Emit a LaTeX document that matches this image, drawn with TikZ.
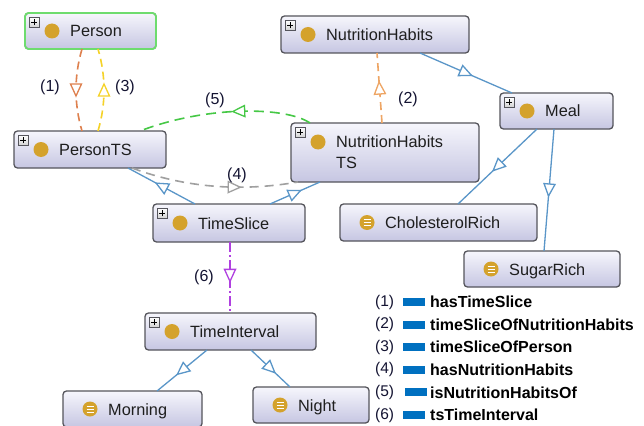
\documentclass[tikz,border=0pt]{standalone}
\usepackage{fontspec}
\setmainfont{Liberation Sans}
\usetikzlibrary{decorations.markings,shadings}
\definecolor{gold}{RGB}{212,162,44}
\definecolor{boxline}{RGB}{85,85,92}
\definecolor{boxtop}{RGB}{246,246,252}
\definecolor{boxbot}{RGB}{198,198,226}
\definecolor{selgreen}{RGB}{110,220,110}
\definecolor{subblue}{RGB}{90,150,200}
\definecolor{eorange}{RGB}{222,128,78}
\definecolor{eorangeb}{RGB}{238,165,100}
\definecolor{eyellow}{RGB}{245,210,40}
\definecolor{egreen}{RGB}{70,200,70}
\definecolor{egray}{RGB}{160,160,160}
\definecolor{epurple}{RGB}{176,64,224}
\definecolor{legblue}{RGB}{0,112,192}
\definecolor{txt}{RGB}{30,30,30}
\definecolor{labtxt}{RGB}{20,20,50}
\tikzset{
  cbox/.style={rectangle, rounded corners=3.5pt, draw=boxline, line width=1.3pt,
    top color=boxtop, bottom color=boxbot, inner sep=0pt, outer sep=0pt},
  plusbox/.style={rectangle, minimum size=10pt, inner sep=0pt, draw=boxline, line width=0.6pt,
    top color=white, bottom color=gray!35,
    path picture={\draw[black, line width=1.1pt]
      ([xshift=-3pt]path picture bounding box.center) -- ([xshift=3pt]path picture bounding box.center)
      ([yshift=-3pt]path picture bounding box.center) -- ([yshift=3pt]path picture bounding box.center);}},
  clsdot/.style={circle, fill=gold, minimum size=15pt, inner sep=0pt},
  inddot/.style={circle, fill=gold, minimum size=15pt, inner sep=0pt,
    path picture={\draw[white, line width=1pt]
      ([shift={(-3.5pt,3pt)}]path picture bounding box.center) -- ([shift={(3.5pt,3pt)}]path picture bounding box.center)
      ([shift={(-3.5pt,0pt)}]path picture bounding box.center) -- ([shift={(3.5pt,0pt)}]path picture bounding box.center)
      ([shift={(-3.5pt,-3pt)}]path picture bounding box.center) -- ([shift={(3.5pt,-3pt)}]path picture bounding box.center);}},
  ctext/.style={anchor=base west, inner sep=0pt, text=txt, font=\fontsize{16.3}{21}\selectfont},
  elab/.style={inner sep=0pt, text=labtxt, font=\fontsize{16}{19}\selectfont},
  marr/.style n args={2}{postaction={decorate}, decoration={markings,
    mark=at position #1 with {\draw[#2, solid, fill=white, line width=1.3pt, line join=miter]
      (6pt,0pt) -- (-6pt,5.5pt) -- (-6pt,-5.5pt) -- cycle;}}},
  subedge/.style={draw=subblue, line width=1.3pt, marr={0.5}{subblue}},
  objedge/.style={line width=1.6pt, dash pattern=on 8pt off 5pt},
  legnum/.style={anchor=west, inner sep=0pt, text=labtxt, font=\fontsize{15.5}{18}\selectfont},
  legbar/.style={rectangle, fill=legblue, minimum width=22pt, minimum height=8pt, inner sep=0pt, anchor=west},
  legtxt/.style={anchor=west, inner sep=0pt, text=black, font=\bfseries\fontsize{16}{19}\selectfont},
}
\newcommand\cls[6]{%
  \node[cbox, minimum width=#4pt, minimum height=#5pt] (#1) at (#2,#3) {};
  \node[plusbox, anchor=north west] (#1-p) at ([shift={(4,4)}]#1.north west) {};
  \node[clsdot] (#1-d) at ([xshift=27pt]#1.west) {};
  \node[ctext] (#1-t) at ([shift={(45,6)}]#1.west) {#6};
}
\newcommand\ind[6]{%
  \node[cbox, minimum width=#4pt, minimum height=#5pt] (#1) at (#2,#3) {};
  \node[inddot] (#1-d) at ([xshift=27pt]#1.west) {};
  \node[ctext] (#1-t) at ([shift={(45,6)}]#1.west) {#6};
}
\begin{document}
\begin{tikzpicture}[x=1pt,y=-1pt]
\clip (0,0) rectangle (644,425);
\fill[white] (0,0) rectangle (644,425);

% classes
\cls{person}{90.5}{31}{131}{36}{Person}
\draw[selgreen, line width=1.8pt, rounded corners=3.5pt] (person.north west) rectangle (person.south east);
\cls{personts}{90}{149.5}{152}{37}{PersonTS}
\cls{nh}{375}{34.5}{188}{37}{NutritionHabits}
\cls{meal}{556.5}{111}{113}{36}{Meal}
\node[cbox, minimum width=188pt, minimum height=59pt] (nhts) at (385,152.5) {};
\node[plusbox, anchor=north west] (nhts-p) at ([shift={(4,4)}]nhts.north west) {};
\node[clsdot] (nhts-d) at ([shift={(27,-10.5)}]nhts.west) {};
\node[anchor=west, inner sep=0pt, text=txt, align=left, font=\fontsize{16.3}{21}\selectfont] (nhts-t) at ([xshift=45pt]nhts.west) {NutritionHabits\\TS};
\cls{timeslice}{229}{223}{152}{38}{TimeSlice}
\ind{chol}{438.5}{222.5}{197}{37}{CholesterolRich}
\ind{sugar}{542}{269}{156}{36}{SugarRich}
\cls{tinterval}{230.5}{331.5}{171}{37}{TimeInterval}
\ind{morning}{132.5}{409}{139}{36}{Morning}
\ind{night}{311}{405}{116}{36}{Night}

% subclass edges
\draw[subedge] ([xshift=-34pt]timeslice.north) -- ([xshift=38pt]personts.south);
\draw[subedge] ([xshift=41pt]timeslice.north) -- ([xshift=-65pt]nhts.south);
\draw[subedge] ([xshift=45pt]nh.south) -- ([xshift=-44.5pt]meal.north);
\draw[subedge] ([xshift=-19.5pt]meal.south) -- ([xshift=19.5pt]chol.north);
\draw[subedge] ([xshift=-2.5pt]meal.south) -- ([xshift=2pt]sugar.north);
\draw[subedge] ([xshift=-23.5pt]tinterval.south) -- ([xshift=24.5pt]morning.north);
\draw[subedge] ([xshift=20.5pt]tinterval.south) -- ([xshift=-21pt]night.north);

% object property edges
\draw[objedge, draw=eorange, marr={0.5}{eorange}] ([xshift=-8.5pt]person.south) .. controls +(-8,27) and +(-8,-27) .. ([xshift=-8pt]personts.north);
\draw[objedge, draw=eyellow, marr={0.5}{eyellow}] ([xshift=8pt]personts.north) .. controls +(8,-27) and +(8,27) .. ([xshift=7.5pt]person.south);
\draw[objedge, draw=eorangeb, marr={0.5}{eorangeb}] ([xshift=-3pt]nhts.north) -- ([xshift=2pt]nh.south);
\draw[objedge, draw=egreen, dash pattern=on 10pt off 6pt, marr={0.42}{egreen}] ([xshift=-75pt]nhts.north) .. controls +(-25,-17) and +(65,-25) .. ([xshift=50pt]personts.north);
\draw[objedge, draw=egray, dash pattern=on 9pt off 6pt, marr={0.62}{egray}] ([xshift=42pt]personts.south) .. controls +(70,26) and +(-35,6) .. ([xshift=-87pt]nhts.south);
\draw[objedge, draw=epurple, dash pattern=on 10pt off 3pt on 2pt off 3pt, marr={0.47}{epurple}] ([xshift=1pt]timeslice.south) -- ([xshift=-0.5pt]tinterval.north);

% edge labels
\node[elab] (lab1) at (50,87) {(1)};
\node[elab] (lab3) at (125,87) {(3)};
\node[elab] (lab2) at (408,99) {(2)};
\node[elab] (lab5) at (215,100) {(5)};
\node[elab] (lab4) at (237,175) {(4)};
\node[elab] (lab6) at (204,277) {(6)};

% legend
\node[legnum] (l1n) at (375,302) {(1)};
\node[legbar] (l1b) at (403,302) {};
\node[legtxt] (l1t) at (430,302) {hasTimeSlice};
\node[legnum] (l2n) at (375,324.6) {(2)};
\node[legbar] (l2b) at (403,324.6) {};
\node[legtxt] (l2t) at (430,324.6) {timeSliceOfNutritionHabits};
\node[legnum] (l3n) at (375,347.2) {(3)};
\node[legbar] (l3b) at (403,347.2) {};
\node[legtxt] (l3t) at (430,347.2) {timeSliceOfPerson};
\node[legnum] (l4n) at (375,369.8) {(4)};
\node[legbar] (l4b) at (403,369.8) {};
\node[legtxt] (l4t) at (430,369.8) {hasNutritionHabits};
\node[legnum] (l5n) at (375,392.4) {(5)};
\node[legbar] (l5b) at (404.5,392.4) {};
\node[legtxt] (l5t) at (430,392.4) {isNutritionHabitsOf};
\node[legnum] (l6n) at (375,415) {(6)};
\node[legbar] (l6b) at (403,415) {};
\node[legtxt] (l6t) at (430,415) {tsTimeInterval};
\end{tikzpicture}
\end{document}
